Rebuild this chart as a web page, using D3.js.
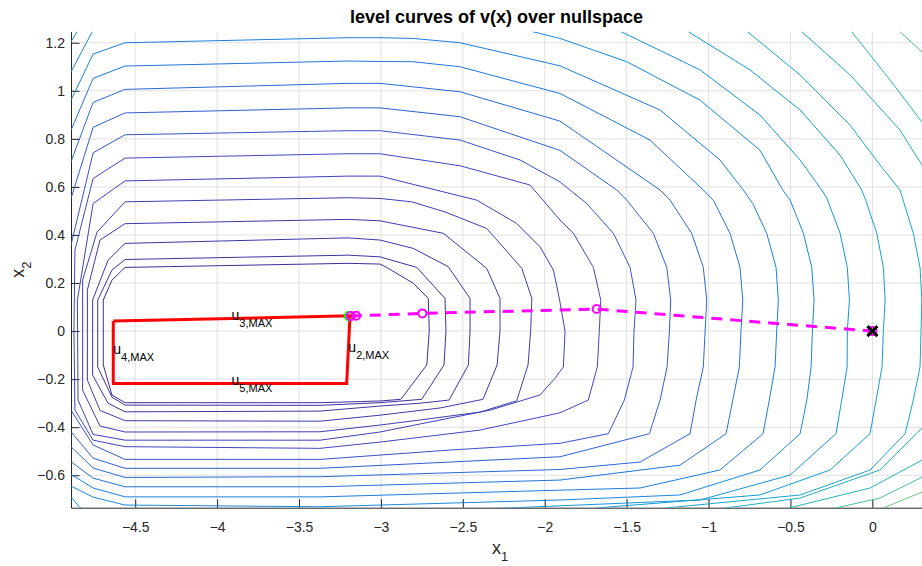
<!DOCTYPE html>
<html>
<head>
<meta charset="utf-8">
<script src="https://cdn.jsdelivr.net/npm/d3@7"></script>
<style>
  body { margin: 0; background: #fff; }
  svg { font-family: 'Liberation Sans', Arial, Helvetica, sans-serif; }
</style>
</head>
<body>
<svg id="chart"></svg>
<script>
/* global d3 */
const xTicks = [-4.5, -4, -3.5, -3, -2.5, -2, -1.5, -1, -0.5, 0]
const yTicks = [-0.6, -0.4, -0.2, 0, 0.2, 0.4, 0.6, 0.8, 1, 1.2]

// level curves of v(x), innermost first, [x1, x2] vertices
const level1 = [[-4.562,0.265],[-3.201,0.282],[-3.006,0.279],[-2.965,0.265],[-2.802,0.199],[-2.711,0.136],[-2.705,0],[-2.720,-0.141],[-2.879,-0.284],[-3.006,-0.291],[-3.372,-0.298],[-4.562,-0.298],[-4.642,-0.266],[-4.695,-0.141],[-4.695,0.129],[-4.642,0.212],[-4.562,0.265]]
const level2 = [[-4.562,0.298],[-3.201,0.316],[-3.006,0.309],[-2.781,0.265],[-2.609,0.136],[-2.603,0],[-2.615,-0.141],[-2.751,-0.284],[-3.006,-0.298],[-3.372,-0.309],[-4.562,-0.308],[-4.642,-0.275],[-4.729,-0.149],[-4.729,0.129],[-4.642,0.254],[-4.562,0.298]]
const level3 = [[-4.562,0.365],[-3.201,0.388],[-3.006,0.379],[-2.802,0.344],[-2.589,0.268],[-2.456,0.136],[-2.456,0],[-2.466,-0.141],[-2.584,-0.287],[-2.761,-0.300],[-3.006,-0.312],[-3.372,-0.333],[-4.562,-0.336],[-4.666,-0.300],[-4.760,-0.183],[-4.760,0.129],[-4.666,0.295],[-4.562,0.365]]
const level4 = [[-4.562,0.447],[-3.201,0.465],[-3.006,0.459],[-2.619,0.407],[-2.354,0.261],[-2.273,0.136],[-2.273,0],[-2.291,-0.141],[-2.377,-0.284],[-2.639,-0.320],[-3.006,-0.350],[-3.372,-0.375],[-4.562,-0.373],[-4.715,-0.330],[-4.792,-0.204],[-4.792,0.171],[-4.715,0.379],[-4.562,0.447]]
const level5 = [[-4.562,0.538],[-3.201,0.555],[-3.006,0.552],[-2.812,0.538],[-2.609,0.496],[-2.354,0.427],[-2.140,0.261],[-2.079,0.136],[-2.086,0],[-2.102,-0.141],[-2.171,-0.290],[-2.395,-0.337],[-2.761,-0.370],[-3.006,-0.391],[-3.372,-0.419],[-4.562,-0.420],[-4.715,-0.395],[-4.821,-0.246],[-4.821,0.212],[-4.733,0.412],[-4.562,0.538]]
const level6 = [[-4.562,0.625],[-3.201,0.645],[-3.006,0.645],[-2.415,0.545],[-2.171,0.448],[-2.029,0.351],[-1.947,0.254],[-1.911,0.136],[-1.876,0],[-1.886,-0.149],[-1.937,-0.196],[-2.029,-0.266],[-2.334,-0.329],[-2.639,-0.370],[-3.006,-0.420],[-3.372,-0.454],[-4.562,-0.454],[-4.757,-0.430],[-4.849,-0.287],[-4.853,0.129],[-4.757,0.531],[-4.562,0.625]]
const level7 = [[-4.562,0.720],[-3.201,0.738],[-3.006,0.738],[-2.517,0.688],[-2.090,0.608],[-1.907,0.462],[-1.825,0.407],[-1.703,0.265],[-1.658,0.129],[-1.667,0],[-1.679,-0.149],[-1.734,-0.287],[-1.907,-0.340],[-2.395,-0.412],[-3.006,-0.462],[-3.372,-0.488],[-4.562,-0.481],[-4.757,-0.454],[-4.868,-0.329],[-4.874,0],[-4.868,0.337],[-4.757,0.635],[-4.562,0.720]]
const level8 = [[-4.892,0.358],[-4.757,0.742],[-4.562,0.817],[-3.201,0.834],[-3.006,0.834],[-2.517,0.795],[-2.151,0.712],[-1.907,0.621],[-1.744,0.531],[-1.581,0.407],[-1.479,0.265],[-1.443,0.129],[-1.455,0],[-1.461,-0.149],[-1.514,-0.287],[-1.612,-0.427],[-1.907,-0.467],[-2.578,-0.495],[-3.372,-0.534],[-4.562,-0.534],[-4.757,-0.474],[-4.892,-0.329]]
const level9 = [[-4.892,0.552],[-4.757,0.848],[-4.562,0.908],[-3.201,0.929],[-3.006,0.929],[-2.517,0.892],[-1.907,0.752],[-1.560,0.587],[-1.499,0.545],[-1.337,0.407],[-1.255,0.265],[-1.231,0.129],[-1.239,0],[-1.253,-0.149],[-1.296,-0.287],[-1.361,-0.427],[-1.907,-0.523],[-2.578,-0.545],[-3.372,-0.571],[-4.562,-0.571],[-4.757,-0.529],[-4.892,-0.419]]
const level10 = [[-4.892,0.705],[-4.757,0.952],[-4.562,1.006],[-3.201,1.031],[-3.006,1.031],[-2.517,0.996],[-1.907,0.874],[-1.296,0.587],[-1.235,0.545],[-1.103,0.407],[-1.032,0.265],[-1.011,0.129],[-1.021,0],[-1.032,-0.149],[-1.076,-0.287],[-1.113,-0.427],[-1.418,-0.545],[-1.907,-0.576],[-3.372,-0.606],[-4.562,-0.609],[-4.757,-0.570],[-4.892,-0.481]]
const level11 = [[-4.892,0.836],[-4.757,1.052],[-4.562,1.103],[-3.201,1.124],[-3.006,1.122],[-2.804,1.121],[-2.517,1.100],[-1.907,0.989],[-1.357,0.795],[-1.032,0.587],[-0.971,0.545],[-0.869,0.407],[-0.808,0.265],[-0.791,0.129],[-0.802,0],[-0.812,-0.149],[-0.852,-0.287],[-0.893,-0.427],[-1.174,-0.558],[-1.907,-0.620],[-3.372,-0.648],[-4.562,-0.648],[-4.757,-0.612],[-4.892,-0.544]]
const level12 = [[-4.892,0.961],[-4.757,1.153],[-4.562,1.200],[-3.201,1.221],[-3.006,1.221],[-2.804,1.218],[-2.517,1.200],[-1.907,1.104],[-1.296,0.920],[-0.930,0.712],[-0.788,0.587],[-0.730,0.531],[-0.645,0.407],[-0.588,0.265],[-0.574,0.129],[-0.584,0],[-0.594,-0.149],[-0.629,-0.287],[-0.667,-0.427],[-0.930,-0.578],[-1.418,-0.653],[-1.907,-0.662],[-3.372,-0.690],[-4.562,-0.690],[-4.757,-0.653],[-4.892,-0.596]]
const level13 = [[-4.892,1.079],[-4.762,1.246],[-4.70,1.32],[-2.2,1.32],[-2.073,1.246],[-1.907,1.218],[-1.499,1.121],[-1.052,0.961],[-0.686,0.753],[-0.547,0.587],[-0.502,0.545],[-0.421,0.407],[-0.370,0.265],[-0.356,0.129],[-0.366,0],[-0.374,-0.149],[-0.400,-0.287],[-0.441,-0.427],[-0.686,-0.578],[-1.174,-0.682],[-1.907,-0.703],[-3.372,-0.731],[-4.562,-0.724],[-4.757,-0.691],[-4.892,-0.645]]
const level14 = [[-4.892,1.204],[-4.855,1.246],[-4.82,1.32],[-1.6,1.32],[-1.534,1.246],[-1.052,1.087],[-0.686,0.899],[-0.441,0.712],[-0.309,0.587],[-0.278,0.553],[-0.197,0.407],[-0.153,0.265],[-0.140,0.129],[-0.153,0],[-0.154,-0.149],[-0.187,-0.287],[-0.222,-0.427],[-0.502,-0.599],[-1.052,-0.703],[-2.182,-0.735],[-3.494,-0.766],[-4.715,-0.766],[-4.837,-0.735],[-4.892,-0.690]]
const level15 = [[-1.2,1.32],[-1.123,1.246],[-0.747,1.087],[-0.441,0.920],[-0.197,0.732],[-0.065,0.587],[-0.045,0.553],[0.027,0.407],[0.067,0.265],[0.078,0.129],[0.067,0],[0.059,-0.149],[0.023,-0.287],[-0.014,-0.427],[-0.258,-0.578],[-0.686,-0.682],[-1.662,-0.735],[-2.273,-0.786]]
const level16 = [[-0.85,1.32],[-0.763,1.246],[-0.441,1.066],[-0.136,0.857],[0.047,0.691],[0.169,0.587],[0.250,0.407],[0.291,0.265],[0.302,0.129],[0.297,0],[0.291,-0.149],[0.250,-0.287],[0.200,-0.427],[-0.014,-0.578],[-0.441,-0.682],[-1.241,-0.735],[-1.662,-0.786]]
const level17 = [[-0.5,1.32],[-0.431,1.246],[-0.136,1.066],[0.169,0.836],[0.303,0.691],[0.474,0.545],[0.55,0],[0.535,-0.204],[0.303,-0.404],[0.046,-0.578],[-0.441,-0.695],[-0.881,-0.735],[-1.357,-0.786]]
const level18 = [[-0.2,1.32],[-0.126,1.246],[0.108,1.045],[0.303,0.870],[0.535,0.628],[0.7,0],[0.535,-0.454],[0.303,-0.537],[-0.014,-0.653],[-0.502,-0.735],[-0.930,-0.786]]
const level19 = [[0.1,1.32],[0.169,1.246],[0.303,1.161],[0.535,0.961],[0.8,0],[0.535,-0.558],[0.303,-0.608],[0.046,-0.695],[-0.216,-0.735],[-0.5,-0.786]]
const level20 = [[0.9,0],[0.535,-0.62],[0.303,-0.670],[0.071,-0.735],[-0.1,-0.786]]
const levels = [level1, level2, level3, level4, level5, level6, level7, level8, level9, level10,
  level11, level12, level13, level14, level15, level16, level17, level18, level19, level20]

// input limit box u2..u5 and its edge labels
const boxX = [-4.634, -3.189, -3.209, -4.634, -4.634]
const boxY = [0.0416, 0.0637, -0.2176, -0.2176, 0.0416]
const labelNames = ['3,MAX', '4,MAX', '2,MAX', '5,MAX']
const labelX = [-3.912, -4.634, -3.199, -3.912]
const labelY = [0.0527, -0.088, -0.077, -0.2176]

// trajectory towards the origin
const trajX = [-3.184, -3.152, -2.747, -1.683, 0]
const trajY = [0.0624, 0.0637, 0.0737, 0.0916, 0]

// colormap stops as the thin lines appear (dark indigo -> blue -> teal -> green)
const mapStops = [0, 0.3, 0.45, 0.6, 0.75, 0.9, 1]
const mapColors = ['#3b2e9c', '#4045bc', '#2f64d6', '#1b80e0', '#13a0d1', '#2ab5b2', '#6fc47a']

const width = 922
const height = 566
const margin = { top: 31.7, right: 0, bottom: 58.3, left: 71 }

const svg = d3.select('#chart').attr('width', width).attr('height', height)

const xScale = d3.scaleLinear().domain([-4.892, 0.303]).range([margin.left, width - margin.right])
const yScale = d3.scaleLinear().domain([-0.735, 1.246]).range([height - margin.bottom, margin.top])

const levelColor = d3.scaleLinear().domain(mapStops).range(mapColors)
const minus = d => (d < 0 ? '\u2212' : '') + Math.abs(d)

svg.append('defs').append('clipPath').attr('id', 'clip')
  .append('rect')
  .attr('x', margin.left).attr('y', margin.top)
  .attr('width', width - margin.left - margin.right)
  .attr('height', height - margin.top - margin.bottom)

// grid
const grid = svg.append('g').attr('stroke', '#e0e0e0').attr('stroke-width', 1)
grid.selectAll('.gx').data(xTicks).join('line')
  .attr('x1', d => xScale(d)).attr('x2', d => xScale(d))
  .attr('y1', margin.top).attr('y2', height - margin.bottom)
grid.selectAll('.gy').data(yTicks).join('line')
  .attr('y1', d => yScale(d)).attr('y2', d => yScale(d))
  .attr('x1', margin.left).attr('x2', width - margin.right)

// axes
const xAxis = d3.axisBottom(xScale).tickValues(xTicks).tickFormat(minus)
  .tickSizeInner(-8.5).tickSizeOuter(0).tickPadding(14)
const yAxis = d3.axisLeft(yScale).tickValues(yTicks).tickFormat(minus)
  .tickSizeInner(-8.5).tickSizeOuter(0).tickPadding(6)

svg.append('g')
  .attr('transform', `translate(0, ${height - margin.bottom})`)
  .call(xAxis)
  .call(g => g.selectAll('text').attr('font-size', 14).attr('fill', '#262626'))
svg.append('g')
  .attr('transform', `translate(${margin.left}, 0)`)
  .call(yAxis)
  .call(g => g.selectAll('text').attr('font-size', 14).attr('fill', '#262626'))
svg.selectAll('.domain, .tick line').attr('stroke', '#262626')
svg.selectAll('.tick text').attr('font-family', null)

const plot = svg.append('g').attr('clip-path', 'url(#clip)')

const line = d3.line().x(d => xScale(d[0])).y(d => yScale(d[1]))

plot.selectAll('path.level')
  .data(levels)
  .join('path')
  .attr('class', 'level')
  .attr('d', line)
  .attr('fill', 'none')
  .attr('stroke', (d, i) => levelColor(i / (levels.length - 1)))
  .attr('stroke-width', 1)

plot.append('path')
  .attr('d', line(boxX.map((v, i) => [v, boxY[i]])))
  .attr('fill', 'none')
  .attr('stroke', '#ff0000')
  .attr('stroke-width', 3)

labelNames.forEach((name, i) => {
  const t = plot.append('text')
    .attr('x', xScale(labelX[i]))
    .attr('y', yScale(labelY[i]) + 2)
    .attr('font-size', 14)
    .attr('fill', '#000')
  t.append('tspan').text('u')
  t.append('tspan').attr('dy', 7).attr('font-size', 11).text(name)
})

plot.append('circle')
  .attr('cx', xScale(trajX[0]) - 2).attr('cy', yScale(trajY[0]))
  .attr('r', 4).attr('fill', 'none').attr('stroke', '#00ff00').attr('stroke-width', 2)

plot.append('path')
  .attr('d', line(trajX.map((v, i) => [v, trajY[i]])))
  .attr('fill', 'none')
  .attr('stroke', '#ff00ff')
  .attr('stroke-width', 3)
  .attr('stroke-dasharray', '11,8')

plot.selectAll('circle.traj')
  .data(trajX)
  .join('circle')
  .attr('class', 'traj')
  .attr('cx', d => xScale(d))
  .attr('cy', (d, i) => yScale(trajY[i]))
  .attr('r', 4)
  .attr('fill', 'none')
  .attr('stroke', '#ff00ff')
  .attr('stroke-width', 2)

const endX = xScale(trajX[trajX.length - 1])
const endY = yScale(trajY[trajY.length - 1])
plot.append('path')
  .attr('d', `M${endX - 5},${endY - 5}L${endX + 5},${endY + 5}M${endX - 5},${endY + 5}L${endX + 5},${endY - 5}`)
  .attr('stroke', '#000')
  .attr('stroke-width', 3)

// title and axis labels
svg.append('text')
  .attr('x', (margin.left + width) / 2)
  .attr('y', 23)
  .attr('text-anchor', 'middle')
  .attr('font-size', 18)
  .attr('font-weight', 'bold')
  .attr('fill', '#000')
  .text('level curves of v(x) over nullspace')

const xLabel = svg.append('text')
  .attr('x', 492)
  .attr('y', 554)
  .attr('font-size', 18)
  .attr('fill', '#262626')
xLabel.append('tspan').text('x')
xLabel.append('tspan').attr('dy', 7).attr('font-size', 13).text('1')

const yLabel = svg.append('text')
  .attr('transform', `translate(24, ${(margin.top + height - margin.bottom) / 2 + 8}) rotate(-90)`)
  .attr('font-size', 18)
  .attr('fill', '#262626')
yLabel.append('tspan').text('x')
yLabel.append('tspan').attr('dy', 7).attr('font-size', 13).text('2')
</script>
</body>
</html>
